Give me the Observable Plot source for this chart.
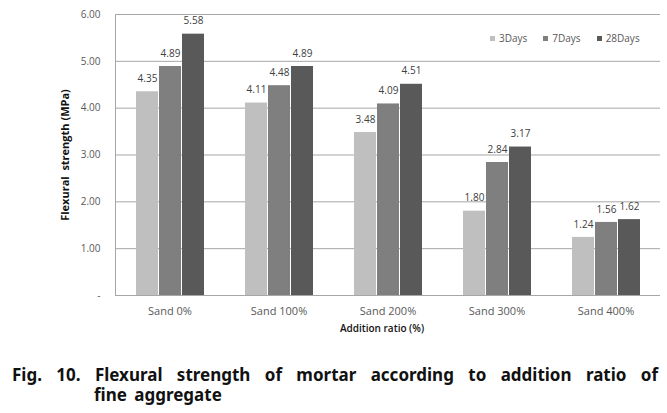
<!DOCTYPE html>
<html>
<head>
<meta charset="utf-8">
<script src="https://cdn.jsdelivr.net/npm/d3@7"></script>
<script src="https://cdn.jsdelivr.net/npm/@observablehq/plot@0.6"></script>
<style>
  html, body { margin: 0; padding: 0; background: #fff; }
  #wrap { position: relative; width: 667px; height: 413px; overflow: hidden; font-family: "Open Sans", sans-serif; }
  #chart { position: absolute; left: 0; top: 0; }
  #legend { position: absolute; left: 490px; top: 31px; display: flex; align-items: center; font-size: 10px; color: #595959; line-height: 14px; }
  #legend .item { display: flex; align-items: center; margin-right: 16px; }
  #legend .sw { width: 5px; height: 5px; margin-right: 4px; }
  .cap { position: absolute; font-family: "Noto Sans", sans-serif; font-weight: bold; font-size: 17px; line-height: 19px; color: #111; white-space: nowrap; }
  #cap1 { left: 12px; top: 365px; width: 646px; text-align: justify; text-align-last: justify; white-space: normal; }
  #cap2 { left: 94px; top: 385px; word-spacing: 3px; }
</style>
</head>
<body>
<div id="wrap">
  <div id="chart"></div>
  <div id="legend"></div>
  <div class="cap" id="cap1">Fig. 10. Flexural strength of mortar according to addition ratio of</div>
  <div class="cap" id="cap2">fine aggregate</div>
</div>
<script>
const categories = ["Sand 0%", "Sand 100%", "Sand 200%", "Sand 300%", "Sand 400%"];
const series = ["3Days", "7Days", "28Days"];
const values3Days = [4.35, 4.11, 3.48, 1.80, 1.24];
const values7Days = [4.89, 4.48, 4.09, 2.84, 1.56];
const values28Days = [5.58, 4.89, 4.51, 3.17, 1.62];
const seriesColors = ["#bfbfbf", "#7f7f7f", "#595959"];
const yTicks = [0, 1, 2, 3, 4, 5, 6];
const yTitle = "Flexural  strength (MPa)";
const xTitle = "Addition ratio (%)";

const seriesValues = [values3Days, values7Days, values28Days];
const data = [];
categories.forEach((c, i) => {
  series.forEach((s, j) => data.push({category: c, series: s, value: seriesValues[j][i]}));
});

const tickFmt = d => d === 0 ? "-" : d.toFixed(2);

const chart = Plot.plot({
  width: 667,
  height: 345,
  marginLeft: 114,
  marginRight: 6,
  marginTop: 14,
  marginBottom: 50,
  style: {fontFamily: "Open Sans, sans-serif", background: "transparent"},
  fx: {domain: categories, padding: 0, label: null, axis: null},
  x: {domain: series, axis: null, paddingInner: 0.06, paddingOuter: 0.81},
  y: {domain: [0, 6], axis: null},
  color: {domain: series, range: seriesColors},
  marks: [
    Plot.ruleY(yTicks.slice(1), {stroke: "#a6a6a6", strokeWidth: 1}),
    Plot.barY(data, {fx: "category", x: "series", y: "value", fill: "series"}),
    Plot.text(data, {fx: "category", x: "series", y: "value", text: d => d.value.toFixed(2), dy: -13, fontSize: 10, fill: "#404040"}),
    Plot.ruleY([0], {stroke: "#a6a6a6", strokeWidth: 1}),
    Plot.frame({anchor: "left", facetAnchor: "left", stroke: "#a6a6a6"}),
    Plot.axisY({ticks: yTicks, tickFormat: tickFmt, tickSize: 0, tickPadding: 15, label: null, fontSize: 10, fill: "#595959"}),
    Plot.axisFx({anchor: "bottom", tickSize: 0, tickPadding: 12, label: null, fontSize: 11, fill: "#595959"}),
    Plot.text([yTitle], {facet: "super", frameAnchor: "left", textAnchor: "middle", rotate: -90, dx: -50, fontSize: 11, fontWeight: "bold", fill: "#111"}),
    Plot.text([xTitle], {facet: "super", frameAnchor: "bottom", dx: -6, dy: 36, fontSize: 10, fontWeight: 600, fill: "#111"})
  ]
});
document.getElementById("chart").appendChild(chart);

const legend = document.getElementById("legend");
series.forEach((s, i) => {
  const item = document.createElement("div");
  item.className = "item";
  const sw = document.createElement("span");
  sw.className = "sw";
  sw.style.background = seriesColors[i];
  const t = document.createElement("span");
  t.textContent = s;
  item.appendChild(sw);
  item.appendChild(t);
  legend.appendChild(item);
});
</script>
</body>
</html>
